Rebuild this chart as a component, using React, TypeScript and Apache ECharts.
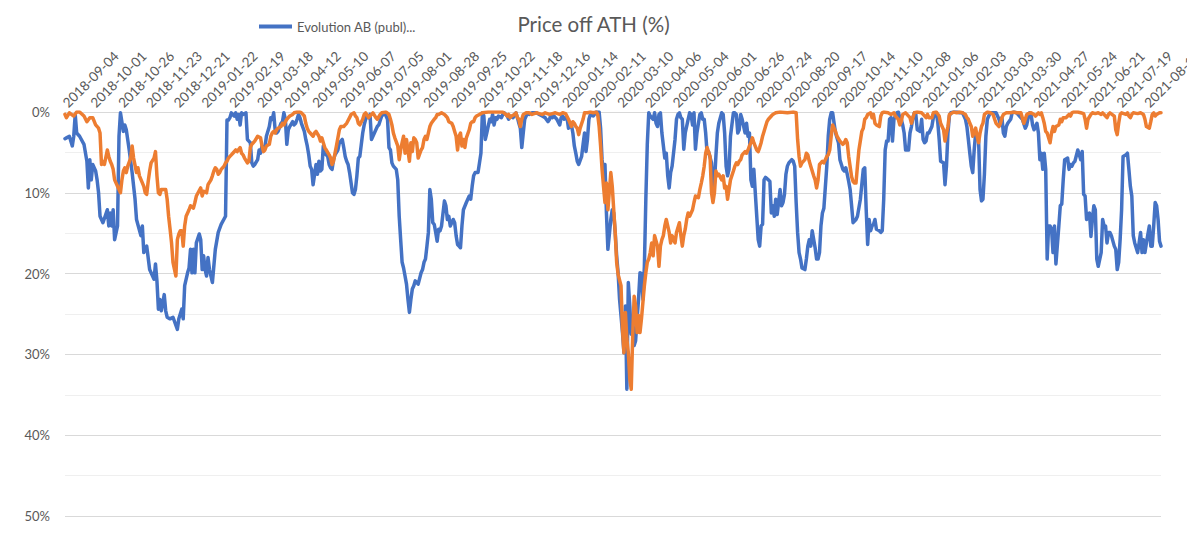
import React, { useEffect, useRef } from "react";
import * as echarts from "echarts";

// ---------- DATA ----------
const chartTitle = "Price off ATH (%)";
const evolutionName = "Evolution AB (publ)...";
const indexName = "Index";

// trading-day category axis: a label every 19 trading days
const N_POINTS = 752;
const LABEL_STEP = 19;
const tickLabels = [
  "2018-09-04", "2018-10-01", "2018-10-26", "2018-11-23", "2018-12-21",
  "2019-01-22", "2019-02-19", "2019-03-18", "2019-04-12", "2019-05-10",
  "2019-06-07", "2019-07-05", "2019-08-01", "2019-08-28", "2019-09-25",
  "2019-10-22", "2019-11-18", "2019-12-16", "2020-01-14", "2020-02-11",
  "2020-03-10", "2020-04-06", "2020-05-04", "2020-06-01", "2020-06-26",
  "2020-07-24", "2020-08-20", "2020-09-17", "2020-10-14", "2020-11-10",
  "2020-12-08", "2021-01-06", "2021-02-03", "2021-03-03", "2021-03-30",
  "2021-04-27", "2021-05-24", "2021-06-21", "2021-07-19", "2021-08-13",
];

const yTicks = [0, 10, 20, 30, 40, 50];

// [trading-day index, % below all-time high]
const evolutionPoints: [number, number][] = [
  [0,3.3],[1,3.2],[3,3.0],[5,4.2],[6,3.0],[7,0.3],[8,2.6],[10,3.0],[13,4.0],[15,6.1],[16,9.4],[17,5.9],[18,8.4],[19,6.5],
  [21,7.3],[22,8.4],[23,10.0],[24,12.9],[26,13.7],[29,12.1],[30,14.1],[31,12.5],[32,14.1],[33,12.1],[34,15.8],[36,14.1],
  [37,3.0],[38,0.1],[40,2.4],[41,1.6],[42,2.2],[44,4.7],[46,7.5],[48,10.8],[49,13.3],[52,15.3],[53,14.1],[54,17.4],
  [56,16.6],[58,19.5],[61,20.7],[62,18.8],[63,20.9],[64,24.4],[65,23.2],[66,24.6],[68,22.6],[69,24.6],[70,25.4],
  [72,25.6],[74,25.4],[77,26.9],[78,25.6],[80,24.4],[81,25.6],[82,21.5],[84,19.9],[85,19.3],[86,17.0],[87,19.9],
  [88,17.0],[89,19.9],[90,16.2],[92,15.1],[93,15.8],[94,19.5],[95,17.8],[96,19.5],[97,20.3],[98,18.0],[99,19.5],
  [101,21.1],[103,17.0],[105,14.9],[107,13.9],[110,12.9],[111,1.0],[112,1.0],[113,0.7],[114,0.1],[116,0.5],[117,0.1],
  [118,0.9],[119,0.3],[120,1.6],[121,0.1],[122,0.3],[124,0.1],[125,3.4],[126,3.6],[127,3.8],[128,6.3],[129,6.7],
  [130,6.5],[132,5.9],[133,4.7],[134,5.1],[135,4.2],[136,4.7],[137,4.4],[138,3.0],[140,1.8],[141,0.7],[142,0.9],
  [143,0.1],[144,2.2],[145,2.6],[146,2.4],[148,1.4],[149,1.2],[150,0.1],[151,0.9],[152,4.0],[153,2.2],[154,1.8],
  [156,1.2],[157,1.6],[158,1.4],[159,0.9],[160,0.3],[161,0.7],[162,1.4],[164,2.4],[165,3.4],[166,4.2],[167,5.3],
  [168,6.7],[169,7.1],[170,9.0],[172,6.5],[173,7.7],[174,6.1],[175,7.3],[176,7.1],[177,4.2],[178,5.1],[180,5.5],
  [181,6.5],[182,6.9],[183,7.1],[184,5.9],[185,5.3],[187,4.7],[188,3.8],[189,3.6],[190,3.4],[191,4.4],[192,5.5],
  [193,6.1],[194,6.5],[195,7.5],[197,10.0],[198,10.2],[199,9.6],[200,7.9],[201,5.7],[202,5.5],[204,2.6],[205,1.6],
  [206,0.9],[207,0.5],[208,0.7],[209,0.3],[210,3.4],[212,2.6],[213,2.2],[214,1.8],[215,1.6],[217,0.5],[219,0.1],
  [221,0.9],[222,4.4],[223,4.7],[224,6.3],[225,6.7],[227,7.1],[228,8.4],[229,12.9],[230,15.8],[231,18.6],[232,19.3],
  [233,20.3],[234,21.3],[235,23.2],[236,24.8],[237,23.2],[238,21.9],[239,21.5],[240,20.9],[241,21.1],[242,21.3],
  [244,19.9],[245,19.5],[246,18.6],[247,18.2],[248,16.6],[249,14.9],[250,9.6],[251,10.8],[252,13.7],[253,13.9],
  [254,14.9],[255,16.0],[256,14.5],[257,14.7],[258,14.1],[260,11.0],[261,11.6],[262,13.3],[263,12.9],[264,14.1],
  [266,13.3],[267,13.7],[268,15.3],[269,16.4],[270,16.6],[271,16.8],[272,14.1],[273,12.1],[275,11.2],[276,10.8],
  [277,10.4],[278,10.8],[279,9.2],[280,7.9],[281,7.5],[283,7.5],[284,6.3],[285,5.1],[286,0.1],[287,0.5],[288,3.4],
  [289,2.6],[291,0.9],[292,1.2],[293,0.3],[294,1.6],[295,0.7],[296,0.9],[297,0.5],[299,0.7],[300,0.3],[301,0.1],
  [302,0.3],[303,0.5],[304,0.9],[305,0.5],[307,0.7],[308,0.3],[309,0.1],[310,0.7],[311,1.4],[312,2.0],[313,4.4],
  [314,2.6],[315,0.9],[317,0.1],[318,0.3],[320,0.1],[323,0.1],[325,0.3],[327,0.5],[329,0.7],[331,1.2],[332,0.9],
  [333,0.3],[334,0.7],[335,0.5],[336,0.7],[337,0.9],[339,1.6],[340,0.7],[341,0.5],[342,0.9],[343,0.7],[344,0.7],
  [345,2.0],[347,1.6],[348,2.6],[349,4.2],[350,5.1],[351,6.1],[352,6.5],[354,5.5],[355,4.0],[356,2.6],[357,4.9],
  [358,3.4],[359,0.9],[360,0.3],[362,0.5],[364,0.0],[366,0.0],[367,2.0],[368,5.9],[369,7.5],[370,6.5],[371,12.5],
  [372,17.0],[374,13.3],[375,12.1],[376,12.5],[377,14.9],[378,17.8],[379,19.9],[380,23.2],[382,27.3],[383,29.8],
  [384,24.0],[385,34.3],[386,21.1],[387,24.0],[388,27.5],[389,26.0],[390,28.9],[391,28.3],[392,25.6],[393,23.2],
  [394,19.9],[395,20.0],[396,23.2],[397,19.1],[398,10.8],[399,4.0],[400,0.1],[401,0.5],[403,0.9],[404,0.1],[405,1.4],
  [406,1.8],[407,0.3],[408,0.1],[409,2.6],[411,5.7],[412,5.1],[413,7.9],[414,9.4],[415,7.5],[416,6.7],[418,3.4],
  [419,0.9],[420,0.3],[421,0.1],[422,0.7],[423,0.9],[424,4.6],[425,2.6],[427,0.9],[428,0.1],[429,0.3],[430,1.6],
  [431,0.1],[432,4.6],[433,2.6],[435,0.3],[436,0.1],[437,0.9],[438,0.9],[439,2.6],[440,5.1],[441,4.9],[443,6.3],
  [444,9.2],[445,8.8],[446,5.5],[447,2.6],[448,1.4],[450,0.1],[451,0.3],[452,2.6],[453,6.7],[454,7.9],[455,7.1],
  [456,3.0],[458,0.1],[459,0.1],[460,0.3],[461,2.6],[462,2.2],[463,0.3],[464,0.9],[466,2.6],[467,1.4],[468,3.0],
  [469,2.6],[470,8.4],[471,9.2],[472,7.1],[474,12.9],[475,15.8],[476,16.6],[477,14.1],[478,13.9],[479,8.4],[480,8.1],
  [482,8.4],[483,8.6],[484,12.5],[485,11.6],[486,12.9],[487,10.8],[488,12.7],[490,9.6],[491,11.6],[492,11.2],
  [493,10.2],[494,7.7],[495,6.7],[496,6.3],[498,5.9],[499,6.1],[500,6.7],[501,11.2],[502,14.9],[503,17.4],[504,18.2],
  [505,19.3],[507,19.5],[508,18.2],[509,16.6],[510,15.8],[511,16.6],[512,14.7],[514,16.8],[515,18.2],[516,18.2],
  [517,17.4],[518,14.1],[519,12.5],[520,11.9],[522,6.7],[523,3.0],[524,0.9],[525,0.1],[526,0.1],[527,1.4],[528,2.6],
  [530,3.8],[531,5.9],[532,6.5],[533,7.1],[534,7.3],[535,6.9],[536,7.7],[537,8.6],[538,9.6],[539,11.6],[540,13.7],
  [542,13.3],[543,12.9],[545,10.8],[547,7.1],[548,6.9],[549,12.1],[550,16.4],[551,13.3],[552,14.7],[553,14.1],
  [554,13.9],[555,13.3],[556,14.5],[558,14.7],[559,14.9],[560,14.7],[561,10.8],[562,4.7],[563,3.6],[564,3.6],
  [565,0.9],[566,0.7],[567,3.6],[568,0.9],[570,0.1],[571,0.0],[572,0.7],[573,0.9],[574,1.6],[575,2.6],[576,4.7],
  [578,4.7],[579,2.6],[580,1.8],[581,0.7],[582,0.1],[583,0.3],[584,2.2],[586,2.4],[587,0.9],[588,3.4],[589,3.8],
  [590,3.6],[591,2.6],[592,2.6],[594,1.8],[595,0.7],[596,0.1],[597,0.1],[598,1.2],[599,3.4],[600,6.1],[602,6.3],
  [603,9.0],[604,6.7],[605,2.6],[606,0.5],[607,0.1],[609,0.0],[611,0.0],[613,0.1],[615,0.1],[617,0.9],[618,1.8],
  [619,3.4],[620,5.1],[621,6.7],[622,7.5],[623,4.7],[624,2.6],[626,3.4],[627,9.6],[628,11.0],[629,10.8],[630,7.7],
  [631,3.0],[632,0.9],[634,0.1],[636,0.1],[638,0.1],[640,0.9],[641,1.6],[642,0.7],[643,2.6],[644,3.0],[645,1.8],
  [646,1.4],[648,0.9],[649,0.1],[650,0.0],[652,0.1],[654,0.5],[656,0.9],[658,2.0],[659,1.6],[660,0.7],[661,0.1],
  [662,0.3],[663,1.6],[664,2.2],[666,1.4],[667,2.6],[668,5.9],[669,5.1],[670,7.1],[671,5.1],[672,7.1],[673,18.2],
  [674,14.1],[675,14.1],[676,14.5],[677,17.4],[678,14.1],[679,18.8],[681,14.1],[682,11.6],[683,11.4],[684,8.4],
  [685,5.9],[687,5.7],[688,7.1],[689,6.5],[690,6.7],[691,6.3],[692,6.1],[694,4.7],[695,5.3],[696,5.9],[697,4.9],
  [698,10.2],[699,10.4],[700,13.3],[702,12.5],[703,15.4],[704,13.3],[705,11.6],[706,12.1],[707,18.2],[708,19.1],
  [710,17.4],[711,13.3],[712,14.1],[713,14.1],[714,16.2],[715,14.9],[716,14.9],[717,15.3],[719,16.6],[720,17.0],
  [721,19.5],[722,18.6],[723,15.8],[724,12.1],[725,5.5],[727,5.3],[728,5.1],[729,7.1],[730,9.2],[731,10.4],
  [732,15.3],[733,16.2],[735,17.4],[736,16.2],[737,14.9],[738,17.4],[739,15.8],[740,17.4],[741,16.2],[743,14.1],
  [744,16.6],[745,16.6],[746,14.1],[747,11.2],[748,11.6],[749,13.3],[750,16.0],[751,16.6],
];

const indexPoints: [number, number][] = [
  [0,0.3],[1,0.7],[3,0.1],[6,0.5],[8,0.0],[10,0.0],[13,0.5],[15,1.2],[17,0.7],[19,0.7],[21,1.6],[23,2.0],[24,2.6],
  [25,6.5],[26,6.1],[27,6.5],[29,4.7],[30,5.5],[31,6.1],[32,6.5],[33,7.1],[34,8.4],[36,9.2],[37,9.6],[38,10.0],
  [39,8.4],[40,7.3],[41,6.9],[42,7.5],[43,6.7],[45,5.7],[46,4.2],[47,5.7],[49,7.5],[50,6.9],[51,7.9],[54,9.2],
  [55,10.0],[56,10.2],[57,8.6],[58,7.3],[59,6.3],[61,5.7],[62,4.9],[63,7.9],[64,10.0],[65,10.2],[66,9.6],[69,9.6],
  [70,10.8],[71,12.9],[72,14.5],[73,16.2],[74,18.6],[76,20.3],[77,15.8],[78,15.1],[79,14.7],[80,14.7],[81,16.6],
  [82,14.1],[83,12.9],[85,12.1],[86,11.6],[88,11.9],[89,11.2],[90,10.4],[93,9.4],[94,10.4],[95,9.8],[97,10.0],
  [98,9.0],[100,8.4],[101,7.9],[102,7.3],[103,6.9],[104,7.1],[105,7.7],[106,7.5],[107,7.1],[109,6.7],[110,6.3],
  [111,6.1],[112,5.7],[113,5.5],[114,5.3],[115,5.1],[117,4.7],[118,4.9],[120,4.4],[121,5.1],[122,5.3],[123,5.7],
  [125,6.3],[126,6.1],[127,4.4],[128,4.0],[129,3.8],[130,3.6],[132,3.0],[134,3.2],[135,4.2],[136,4.9],[137,4.7],
  [138,4.2],[140,4.0],[141,3.0],[142,2.6],[143,2.4],[144,2.6],[145,2.2],[146,2.0],[148,1.8],[149,1.4],[150,1.6],
  [151,1.2],[152,0.9],[153,0.7],[154,0.5],[156,0.3],[157,0.1],[159,0.0],[161,0.0],[162,0.1],[164,0.5],[165,1.4],
  [166,2.0],[167,2.4],[168,2.6],[170,3.0],[171,2.6],[172,2.4],[174,3.0],[175,3.6],[176,3.2],[177,3.8],[178,4.4],
  [179,4.7],[181,5.3],[182,5.7],[183,6.5],[184,6.1],[185,5.1],[186,4.2],[188,2.2],[189,1.8],[191,1.8],[192,1.6],
  [193,1.4],[195,0.7],[196,0.3],[198,0.1],[199,0.5],[200,0.7],[201,1.4],[202,1.6],[204,0.9],[205,0.3],[206,0.1],
  [208,0.7],[209,0.5],[211,0.1],[213,0.7],[214,0.9],[216,0.3],[217,0.1],[220,0.0],[222,0.3],[223,0.9],[224,1.6],
  [225,2.6],[226,3.2],[228,4.2],[229,5.9],[230,4.7],[231,3.8],[232,3.0],[233,5.1],[234,3.4],[236,6.1],[237,3.8],
  [238,4.9],[239,3.2],[240,3.4],[241,3.8],[242,5.7],[244,4.7],[245,4.4],[246,3.4],[247,3.0],[248,3.4],[249,2.6],
  [250,1.8],[251,1.4],[253,0.9],[254,0.7],[255,0.3],[256,0.3],[258,0.1],[260,0.3],[261,0.5],[262,0.7],[263,1.2],
  [265,1.4],[266,1.8],[267,2.4],[268,3.0],[269,4.7],[270,3.0],[271,2.6],[272,4.2],[273,3.4],[274,4.4],[275,3.2],
  [277,2.2],[278,1.4],[279,1.2],[280,1.2],[281,0.7],[282,0.5],[284,0.3],[285,0.2],[286,0.1],[290,0.0],[300,0.0],
  [302,0.3],[303,0.5],[304,0.3],[305,0.7],[306,0.5],[308,0.3],[309,0.1],[310,0.7],[311,0.9],[312,1.8],[313,0.9],
  [314,0.3],[316,0.1],[318,0.1],[320,0.3],[323,0.1],[325,0.2],[327,0.3],[329,0.1],[332,0.3],[334,0.2],[336,0.1],
  [339,0.3],[341,0.1],[343,0.2],[345,0.9],[347,1.8],[348,1.2],[349,1.4],[350,1.8],[351,2.0],[352,2.8],[353,2.0],
  [355,0.9],[356,0.1],[358,0.1],[360,0.0],[362,0.1],[364,0.0],[365,0.3],[366,1.8],[367,4.2],[368,7.1],[369,9.2],
  [370,11.2],[371,8.8],[372,12.1],[374,7.5],[375,9.2],[376,12.1],[377,14.9],[378,18.6],[379,20.1],[381,21.5],
  [382,26.9],[383,29.8],[384,24.8],[385,28.1],[386,29.8],[387,33.0],[388,34.3],[389,27.7],[390,22.8],[391,24.0],
  [392,27.3],[393,25.2],[394,27.3],[395,25.6],[397,21.5],[398,19.9],[399,18.6],[400,18.2],[401,17.4],[402,16.2],
  [403,17.8],[404,15.3],[406,16.6],[407,19.1],[408,16.6],[409,15.8],[410,15.3],[411,14.1],[412,13.3],[414,14.9],
  [415,16.2],[416,15.3],[417,15.8],[418,16.2],[419,14.9],[421,13.7],[422,15.3],[423,16.6],[424,15.3],[425,14.5],
  [426,13.3],[427,12.5],[428,12.9],[430,12.1],[431,11.2],[432,10.4],[434,10.6],[435,9.6],[436,8.8],[437,7.9],
  [438,6.7],[439,5.1],[440,4.4],[442,5.5],[443,10.0],[444,11.2],[445,10.0],[446,7.3],[447,7.9],[448,7.7],[450,8.4],
  [451,7.9],[452,9.4],[453,9.2],[454,10.8],[455,9.6],[456,8.4],[458,7.3],[459,6.7],[460,6.3],[461,6.5],[462,6.1],
  [463,5.9],[464,5.3],[466,4.9],[467,5.1],[468,4.7],[469,4.2],[470,3.8],[471,3.2],[472,3.8],[474,4.7],[475,4.9],
  [476,4.4],[477,3.8],[478,3.0],[479,2.4],[480,1.8],[481,1.2],[482,0.9],[484,0.5],[485,0.3],[487,0.1],[490,0.0],
  [495,0.1],[499,0.0],[501,0.1],[502,3.4],[503,5.5],[504,6.7],[505,6.3],[507,5.9],[508,5.1],[509,5.3],[510,6.1],
  [511,6.7],[513,7.9],[514,8.4],[515,9.4],[516,8.4],[517,6.5],[518,6.3],[519,6.1],[520,6.3],[522,5.5],[523,5.3],
  [524,4.7],[525,3.0],[526,1.6],[527,2.0],[528,2.4],[529,3.0],[531,3.6],[532,3.8],[533,4.0],[534,3.8],[535,3.4],
  [536,3.8],[537,5.5],[539,8.0],[540,8.6],[541,8.8],[542,8.8],[543,6.7],[544,4.7],[546,2.4],[547,2.0],[548,0.9],
  [549,0.7],[550,0.3],[552,0.1],[553,0.7],[554,0.3],[555,1.4],[556,1.6],[558,1.8],[559,0.5],[560,0.1],[561,0.0],
  [564,0.1],[566,0.3],[568,0.1],[569,0.5],[570,0.7],[571,0.9],[572,1.6],[573,1.2],[574,0.3],[576,0.1],[579,0.7],
  [580,1.4],[581,0.7],[582,0.1],[584,0.0],[587,0.1],[588,0.3],[590,0.7],[591,0.3],[592,0.7],[594,0.7],[595,0.1],
  [597,0.0],[599,0.5],[600,1.4],[602,2.2],[603,3.6],[604,2.6],[605,1.8],[606,0.3],[609,0.0],[611,0.1],[613,0.0],
  [615,0.1],[617,0.3],[618,0.7],[619,0.9],[620,1.4],[621,1.8],[622,3.0],[624,2.0],[625,3.0],[626,3.8],[627,2.6],
  [628,1.8],[629,1.4],[630,0.3],[632,0.0],[634,0.1],[636,0.3],[637,0.9],[638,1.4],[640,1.8],[641,1.4],[642,0.7],
  [643,0.3],[645,0.1],[648,0.1],[650,0.0],[652,0.1],[655,0.1],[657,1.4],[658,0.9],[659,0.3],[660,0.2],[662,0.1],
  [664,0.3],[665,0.5],[667,0.1],[668,0.3],[669,0.1],[670,0.7],[671,1.4],[672,2.4],[673,2.6],[675,3.8],[676,2.6],
  [677,1.8],[678,2.4],[679,1.8],[681,1.6],[682,0.9],[683,1.2],[684,0.7],[686,0.7],[687,0.5],[688,0.3],[689,0.5],
  [690,0.1],[691,0.0],[694,0.0],[696,0.1],[698,0.2],[699,0.9],[700,2.0],[701,0.9],[703,0.3],[704,0.1],[706,0.2],
  [708,0.1],[710,0.3],[711,0.1],[713,0.5],[714,0.7],[715,0.3],[716,0.1],[719,0.5],[720,2.2],[721,2.8],[722,1.4],
  [723,0.3],[724,0.1],[727,0.3],[728,0.1],[729,0.5],[730,0.7],[731,0.3],[732,0.1],[735,0.2],[737,0.1],[739,0.3],
  [740,0.9],[741,1.8],[743,2.0],[744,1.2],[745,0.3],[746,0.1],[747,0.5],[748,0.3],[750,0.1],[751,0.1],
];

// ---------- CHART ----------
const categories: string[] = Array.from({ length: N_POINTS }, (_, i) =>
  i % LABEL_STEP === 0
    ? tickLabels[i / LABEL_STEP]
    : `${tickLabels[Math.floor(i / LABEL_STEP)]} +${i % LABEL_STEP}`
);

const FONT = "Lato, 'Open Sans', sans-serif";
const TEXT = "#595959";

export default function App() {
  const ref = useRef<HTMLDivElement>(null);

  useEffect(() => {
    if (!ref.current) return;
    const chart = echarts.init(ref.current, undefined, { renderer: "svg" });
    chart.setOption({
      animation: false,
      backgroundColor: "#ffffff",
      textStyle: { fontFamily: FONT },
      title: {
        text: chartTitle,
        left: "center",
        top: 8,
        textStyle: { color: TEXT, fontSize: 20.5, fontWeight: "normal", fontFamily: FONT },
      },
      legend: {
        data: [evolutionName],
        left: 254,
        top: 15,
        icon: "rect",
        itemWidth: 33,
        itemHeight: 4,
        itemGap: 4,
        textStyle: { color: TEXT, fontSize: 13, fontFamily: FONT },
      },
      grid: {
        left: 65,
        right: 26,
        top: 112,
        bottom: 20,
        containLabel: false,
        outerBoundsMode: "none",
      },
      xAxis: {
        type: "category",
        position: "top",
        data: categories,
        boundaryGap: false,
        axisLine: { show: true, onZero: false, lineStyle: { color: "#d9d9d9", width: 1 } },
        axisTick: { show: false },
        splitLine: { show: false },
        axisLabel: {
          interval: LABEL_STEP - 1,
          rotate: -45,
          margin: 7,
          color: TEXT,
          fontSize: 13.5,
          fontFamily: FONT,
          hideOverlap: false,
        },
      },
      yAxis: {
        type: "value",
        inverse: true,
        min: yTicks[0],
        max: yTicks[yTicks.length - 1],
        interval: 10,
        axisLine: { show: false },
        axisTick: { show: false },
        axisLabel: { formatter: "{value}%", color: TEXT, fontSize: 13, margin: 15, fontFamily: FONT },
        splitLine: { show: true, lineStyle: { color: "#d9d9d9", width: 1 } },
        minorTick: { show: false, splitNumber: 2 },
        minorSplitLine: { show: true, lineStyle: { color: "#efefef", width: 1 } },
      },
      series: [
        {
          name: evolutionName,
          type: "line",
          data: evolutionPoints,
          showSymbol: false,
          symbol: "none",
          lineStyle: { color: "#4472C4", width: 3.5, cap: "round", join: "round" },
          itemStyle: { color: "#4472C4" },
          z: 2,
        },
        {
          name: indexName,
          type: "line",
          data: indexPoints,
          showSymbol: false,
          symbol: "none",
          lineStyle: { color: "#ED7D31", width: 3.5, cap: "round", join: "round" },
          itemStyle: { color: "#ED7D31" },
          z: 3,
        },
      ],
    });
    return () => chart.dispose();
  }, []);

  return (
    <div
      ref={ref}
      style={{ position: "fixed", left: 0, top: 0, width: 1187, height: 536, background: "#fff" }}
    />
  );
}
